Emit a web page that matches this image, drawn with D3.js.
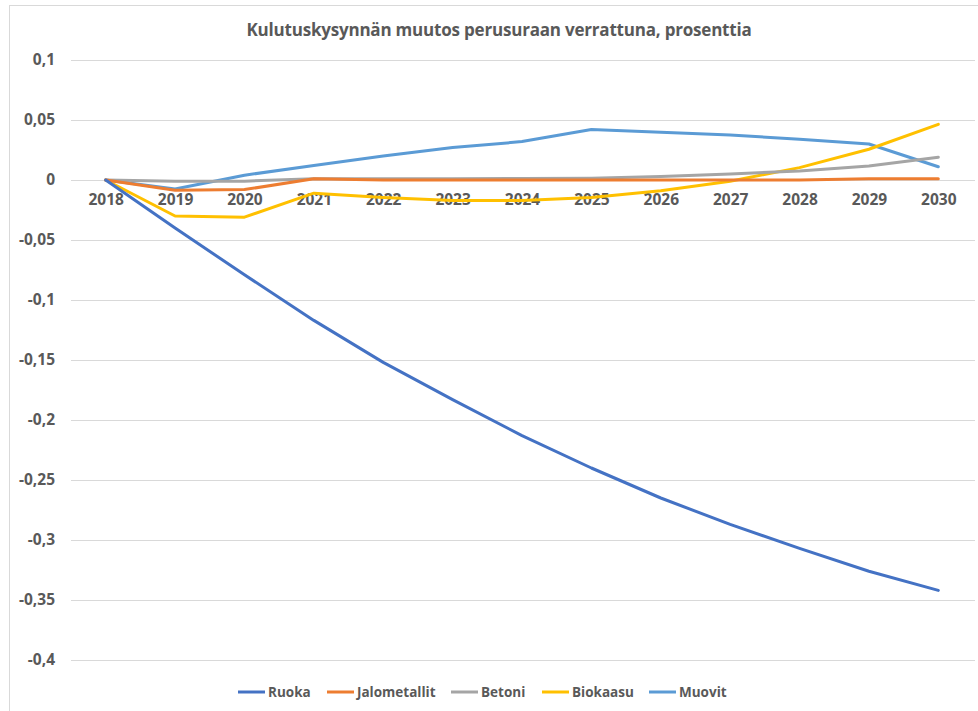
<!DOCTYPE html>
<html>
<head>
<meta charset="utf-8">
<script src="https://cdn.jsdelivr.net/npm/d3@7"></script>
<style>
  body { margin: 0; background: #fff; }
  text { font-family: "Open Sans", "Liberation Sans", sans-serif; fill: #595959; }
</style>
</head>
<body>
<script>
// data
const years = ["2018","2019","2020","2021","2022","2023","2024","2025","2026","2027","2028","2029","2030"];
const ruoka = [0, -0.040, -0.079, -0.117, -0.152, -0.183, -0.213, -0.240, -0.265, -0.287, -0.307, -0.326, -0.342];
const jalometallit = [0, -0.0085, -0.008, 0.001, 0, 0, 0, 0, 0, 0, 0, 0.001, 0.001];
const betoni = [0, -0.001, -0.001, 0.001, 0.001, 0.001, 0.0012, 0.0015, 0.003, 0.005, 0.0075, 0.0117, 0.019];
const biokaasu = [0, -0.030, -0.031, -0.011, -0.0145, -0.017, -0.017, -0.0145, -0.009, -0.001, 0.0103, 0.0256, 0.0464];
const muovit = [0, -0.0075, 0.004, 0.012, 0.020, 0.027, 0.032, 0.042, 0.0397, 0.0375, 0.034, 0.030, 0.011];
const yTicks = [0.1, 0.05, 0, -0.05, -0.1, -0.15, -0.2, -0.25, -0.3, -0.35, -0.4];

const series = [
  {name: "Ruoka", values: ruoka, color: "#4472C4"},
  {name: "Jalometallit", values: jalometallit, color: "#ED7D31"},
  {name: "Betoni", values: betoni, color: "#A5A5A5"},
  {name: "Biokaasu", values: biokaasu, color: "#FFC000"},
  {name: "Muovit", values: muovit, color: "#5B9BD5"}
];

const W = 978, H = 711;
const plot = {left: 71, right: 973, top: 60, bottom: 660};

const svg = d3.select("body").append("svg")
  .attr("width", W).attr("height", H);

// chart border
svg.append("rect")
  .attr("x", 9.5).attr("y", 5.5)
  .attr("width", W).attr("height", H)
  .attr("fill", "#fff").attr("stroke", "#d9d9d9");

svg.append("text")
  .attr("x", 499).attr("y", 36)
  .attr("text-anchor", "middle")
  .style("font-size", "17px").style("font-weight", "bold")
  .style("letter-spacing", "-0.2px")
  .text("Kulutuskysynnän muutos perusuraan verrattuna, prosenttia");

const x = d3.scalePoint()
  .domain(years)
  .range([plot.left, plot.right])
  .padding(0.5);

const y = d3.scaleLinear()
  .domain([-0.4, 0.1])
  .range([plot.bottom, plot.top]);

// gridlines + y labels
const yAxis = svg.append("g")
  .attr("transform", "translate(" + plot.left + ",0)")
  .call(d3.axisLeft(y).tickValues(yTicks).tickSize(-(plot.right + 2 - plot.left)).tickPadding(16)
    .tickFormat(d => String(d).replace(".", ",")));
yAxis.select(".domain").remove();
yAxis.selectAll("line").attr("stroke", "#d9d9d9");
yAxis.selectAll("text")
  .style("font-size", "15.5px").style("font-weight", "bold")
  .attr("fill", "#595959");

// x labels sitting under zero line
const xAxis = svg.append("g")
  .attr("transform", "translate(0," + y(0) + ")")
  .call(d3.axisBottom(x).tickSize(0).tickPadding(14));
xAxis.select(".domain").remove();
xAxis.selectAll("text")
  .style("font-size", "15.5px").style("font-weight", "bold")
  .attr("fill", "#595959");

const line = d3.line()
  .x((d, i) => x(years[i]))
  .y(d => y(d));

svg.append("g").selectAll("path")
  .data(series.slice().reverse())
  .enter()
  .append("path")
  .attr("d", d => line(d.values))
  .attr("fill", "none")
  .attr("stroke", d => d.color)
  .attr("stroke-width", 3)
  .attr("stroke-linejoin", "round")
  .attr("stroke-linecap", "round");

// legend
const legendX = [238, 327, 451, 542, 649];
const lg = svg.append("g").selectAll("g")
  .data(series)
  .enter()
  .append("g")
  .attr("transform", (d, i) => "translate(" + legendX[i] + ",692)");
lg.append("line")
  .attr("x1", 0).attr("x2", 27)
  .attr("stroke", d => d.color).attr("stroke-width", 3);
lg.append("text")
  .attr("x", 30).attr("y", 5)
  .style("font-size", "13.5px").style("font-weight", "bold")
  .text(d => d.name);
</script>
</body>
</html>
